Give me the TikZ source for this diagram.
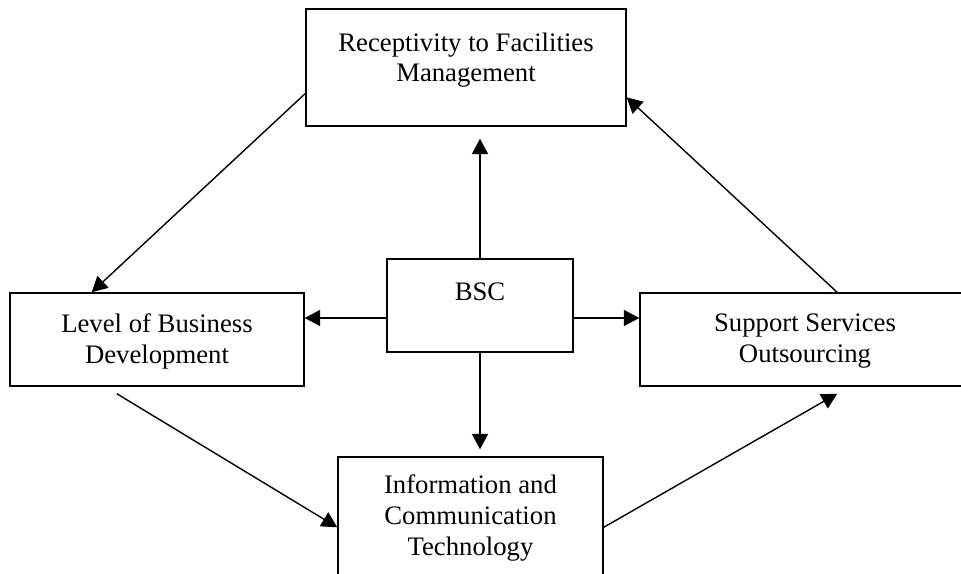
\documentclass[tikz,border=0pt]{standalone}
\usepackage{fontspec}
\setmainfont{Liberation Serif}
\usetikzlibrary{arrows.meta,calc}
\tikzset{
ARC/.style ={draw=black,line join=miter,line cap=butt,line width=1pt,-{Triangle[length=11pt,width=11.5pt]}},
BOX/.style ={draw=black,line join=miter,line width=1pt,rectangle,inner sep=0pt},
TEXTBOX/.style ={anchor=north,align=center,inner sep=0pt,yshift=-15pt,font=\fontsize{19}{22}\selectfont},
}

\begin{document}
\begin{tikzpicture} %BSC model
[x=0.025cm, y=-0.025cm]
	\useasboundingbox (0,0) rectangle (961,573);
	\node[BOX,minimum width=8cm,minimum height=2.925cm,label={[TEXTBOX,yshift=-2pt]90:{Receptivity to Facilities\\Management}}] (rfm) at (466,67.5) {};
	\node[BOX,minimum width=4.65cm,minimum height=2.325cm,label={[TEXTBOX,yshift=-2pt]90:{BSC}}] (bsc) at (480,305.5) {};
	\node[BOX,minimum width=7.35cm,minimum height=2.325cm,label={[TEXTBOX]90:{Level of Business\\Development}}] (lbd) at (157,339.5) {};
	\node[BOX,minimum width=8.25cm,minimum height=2.325cm,label={[TEXTBOX]90:{Support Services\\Outsourcing}}] (sso) at (805,339.5) {};
	\node[BOX,minimum width=6.625cm,minimum height=3.575cm,label={[TEXTBOX,yshift=2pt]90:{Information and\\Communication\\Technology}}] (ict) at (470.5,528.5) {};
	\coordinate (bw) at ($(bsc.west)+(0,12.5)$);
	\coordinate (be) at ($(bsc.east)+(0,12.5)$);
	\path[ARC] (bsc.north) -- ($(bsc.north |- rfm.south)+(0,12)$);
	\path[ARC] (bsc.south) -- ($(bsc.south |- ict.north)+(0,-7)$);
	\path[ARC] (bw) -- (bw -| lbd.east);
	\path[ARC] (be) -- (be -| sso.west);
	\path[ARC] ($(rfm.south west)!0.28!(rfm.north west)$) -- ($(lbd.north west)!0.279!(lbd.north east)$);
	\path[ARC] ($(lbd.south west)!0.364!(lbd.south east)+(0,7)$) -- ($(ict.north west)+(0,71)$);
	\path[ARC] ($(ict.north east)+(0,71)$) -- ($(sso.south west)!0.597!(sso.south east)+(0,7)$);
	\path[ARC] ($(sso.north west)!0.597!(sso.north east)$) -- ($(rfm.south east)!0.248!(rfm.north east)$);
\end{tikzpicture}
\end{document}
